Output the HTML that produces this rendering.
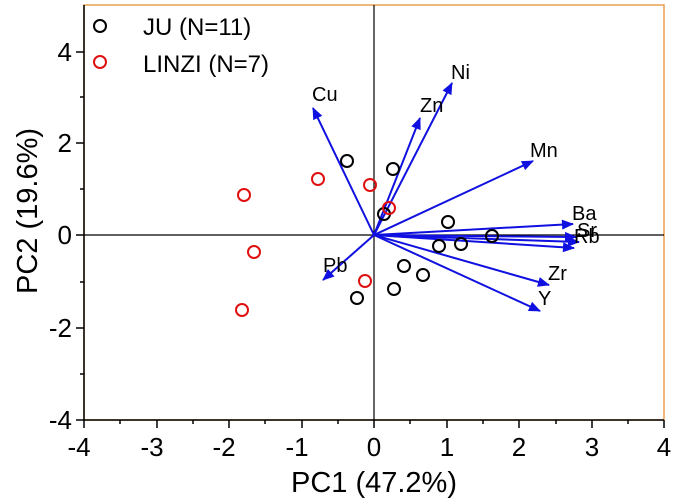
<!DOCTYPE html>
<html><head><style>body{margin:0;background:#fff}svg{display:block}text{font-family:"Liberation Sans",Arial,sans-serif}</style></head><body>
<svg width="678" height="503" viewBox="0 0 678 503">
<defs><marker id="h" viewBox="0 0 12 10" markerWidth="13" markerHeight="10" refX="11" refY="5" orient="auto" markerUnits="userSpaceOnUse"><path d="M0,0 L12,5 L0,10 Z" fill="#1010e0"/></marker></defs>
<rect x="84" y="5" width="580" height="415" fill="none" stroke="#e8a050" stroke-width="1.5"/>
<line x1="84" y1="5" x2="84" y2="420" stroke="#000" stroke-width="1.5"/>
<line x1="84" y1="420" x2="664" y2="420" stroke="#000" stroke-width="1.5"/>
<line x1="84" y1="235" x2="664" y2="235" stroke="#000" stroke-width="1.2"/>
<line x1="374" y1="5" x2="374" y2="420" stroke="#000" stroke-width="1.2"/>
<g stroke="#000" stroke-width="1.5">
<line x1="84" y1="420" x2="84" y2="428"/><line x1="157" y1="420" x2="157" y2="428"/><line x1="229" y1="420" x2="229" y2="428"/><line x1="302" y1="420" x2="302" y2="428"/><line x1="374" y1="420" x2="374" y2="428"/><line x1="447" y1="420" x2="447" y2="428"/><line x1="519" y1="420" x2="519" y2="428"/><line x1="592" y1="420" x2="592" y2="428"/><line x1="664" y1="420" x2="664" y2="428"/>
<line x1="120" y1="420" x2="120" y2="424"/><line x1="193" y1="420" x2="193" y2="424"/><line x1="265" y1="420" x2="265" y2="424"/><line x1="338" y1="420" x2="338" y2="424"/><line x1="410" y1="420" x2="410" y2="424"/><line x1="483" y1="420" x2="483" y2="424"/><line x1="556" y1="420" x2="556" y2="424"/><line x1="628" y1="420" x2="628" y2="424"/>
<line x1="76" y1="420" x2="84" y2="420"/><line x1="76" y1="328" x2="84" y2="328"/><line x1="76" y1="235" x2="84" y2="235"/><line x1="76" y1="143" x2="84" y2="143"/><line x1="76" y1="52" x2="84" y2="52"/>
<line x1="80" y1="374" x2="84" y2="374"/><line x1="80" y1="282" x2="84" y2="282"/><line x1="80" y1="189" x2="84" y2="189"/><line x1="80" y1="97" x2="84" y2="97"/>
</g>
<g font-size="26" text-anchor="middle">
<text x="79" y="456">-4</text><text x="152" y="456">-3</text><text x="224" y="456">-2</text><text x="297" y="456">-1</text><text x="374" y="456">0</text><text x="447" y="456">1</text><text x="519" y="456">2</text><text x="592" y="456">3</text><text x="664" y="456">4</text>
</g>
<g font-size="26" text-anchor="end">
<text x="72" y="429">-4</text><text x="72" y="337">-2</text><text x="72" y="244">0</text><text x="72" y="152">2</text><text x="72" y="61">4</text>
</g>
<text x="374" y="492" font-size="29" text-anchor="middle">PC1 (47.2%)</text>
<text transform="translate(37,211) rotate(-90)" font-size="29" text-anchor="middle">PC2 (19.6%)</text>
<circle cx="100" cy="26" r="6" fill="none" stroke="#000" stroke-width="2"/>
<text x="143" y="35" font-size="24">JU (N=11)</text>
<circle cx="100" cy="62" r="6" fill="none" stroke="#e01010" stroke-width="2"/>
<text x="143" y="72" font-size="24">LINZI (N=7)</text>
<g stroke="#1010e0" stroke-width="2" marker-end="url(#h)">
<line x1="374" y1="235" x2="313" y2="108"/><line x1="374" y1="235" x2="420" y2="118"/><line x1="374" y1="235" x2="452" y2="83"/><line x1="374" y1="235" x2="533" y2="161"/><line x1="374" y1="235" x2="573" y2="224"/><line x1="374" y1="235" x2="576" y2="237"/><line x1="374" y1="235" x2="579" y2="242"/><line x1="374" y1="235" x2="574" y2="248"/><line x1="374" y1="235" x2="549" y2="285"/><line x1="374" y1="235" x2="540" y2="311"/><line x1="374" y1="235" x2="323" y2="280"/>
</g>
<g font-size="20">
<text x="312" y="101">Cu</text><text x="420" y="112">Zn</text><text x="451" y="79">Ni</text><text x="530" y="157">Mn</text><text x="572" y="220">Ba</text><text x="577" y="237">Sr</text><text x="574" y="243">Rb</text><text x="548" y="280">Zr</text><text x="538" y="305">Y</text><text x="323" y="272">Pb</text>
</g>
<g fill="none" stroke="#000" stroke-width="2">
<circle cx="347" cy="161" r="6"/><circle cx="393" cy="169" r="6"/><circle cx="384" cy="214" r="6"/><circle cx="448" cy="222" r="6"/><circle cx="439" cy="246" r="6"/><circle cx="461" cy="244" r="6"/><circle cx="492" cy="236" r="6"/><circle cx="404" cy="266" r="6"/><circle cx="423" cy="275" r="6"/><circle cx="357" cy="298" r="6"/><circle cx="394" cy="289" r="6"/>
</g>
<g fill="none" stroke="#e01010" stroke-width="2">
<circle cx="244" cy="195" r="6"/><circle cx="318" cy="179" r="6"/><circle cx="370" cy="185" r="6"/><circle cx="389" cy="208" r="6"/><circle cx="254" cy="252" r="6"/><circle cx="242" cy="310" r="6"/><circle cx="365" cy="281" r="6"/>
</g>
</svg>
</body></html>
